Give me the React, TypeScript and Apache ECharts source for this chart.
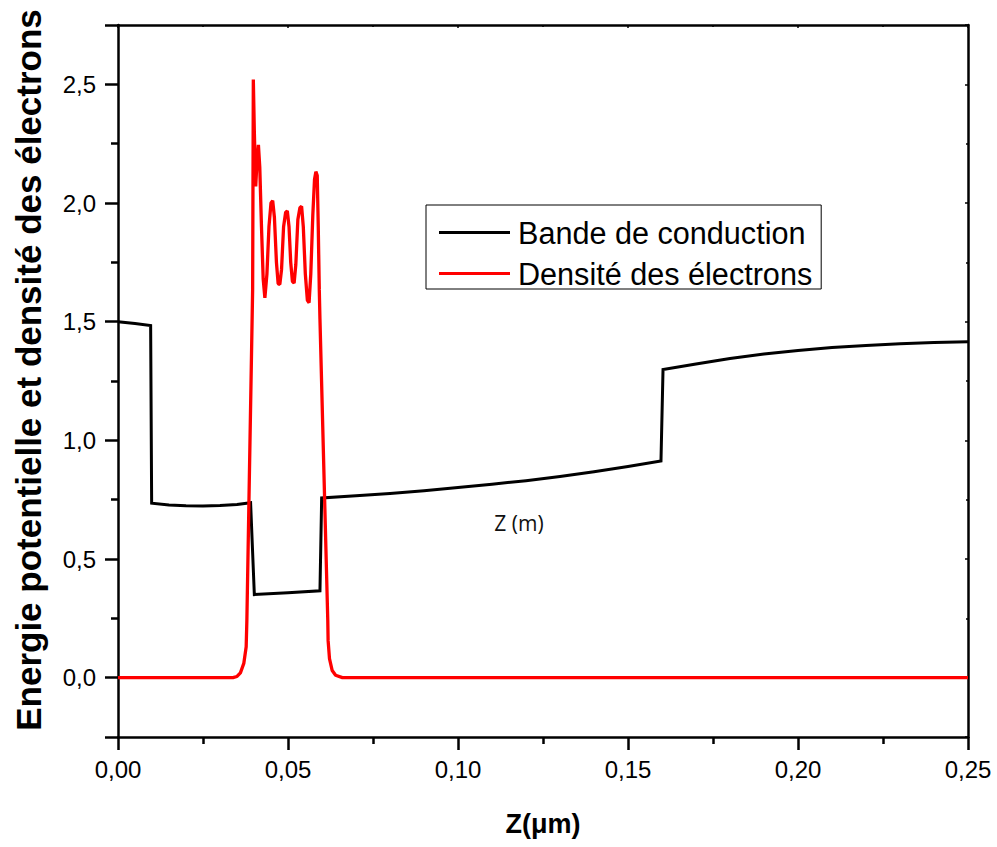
import React, { useEffect, useRef } from "react";
import * as echarts from "echarts";

// Bande de conduction (black)
const bandZ = [0, 0.005, 0.0096, 0.0099, 0.015, 0.02, 0.025, 0.03, 0.035, 0.039, 0.0401, 0.05, 0.0594, 0.0599, 0.07, 0.08, 0.09, 0.10, 0.11, 0.12, 0.13, 0.14, 0.15, 0.1597, 0.1603, 0.17, 0.18, 0.19, 0.20, 0.21, 0.22, 0.23, 0.24, 0.25];
const bandE = [1.50, 1.492, 1.484, 0.735, 0.728, 0.724, 0.723, 0.725, 0.730, 0.737, 0.350, 0.358, 0.366, 0.757, 0.766, 0.776, 0.788, 0.801, 0.815, 0.830, 0.848, 0.868, 0.890, 0.913, 1.298, 1.322, 1.345, 1.364, 1.379, 1.391, 1.400, 1.407, 1.412, 1.415];

// Densité des électrons (red)
const densZ = [0, 0.032, 0.0338, 0.035, 0.036, 0.037, 0.0377, 0.0379, 0.0396, 0.0398, 0.0401, 0.0405, 0.0409, 0.0413, 0.0417, 0.0422, 0.0427, 0.0432, 0.0438, 0.0444, 0.0450, 0.0455, 0.0460, 0.0466, 0.0471, 0.0476, 0.0481, 0.0487, 0.0493, 0.0498, 0.0503, 0.0508, 0.0513, 0.0518, 0.0523, 0.0529, 0.0535, 0.0540, 0.0545, 0.0551, 0.0557, 0.0562, 0.0567, 0.0573, 0.0578, 0.0582, 0.0586, 0.0589, 0.0592, 0.0594, 0.0617, 0.0618, 0.0622, 0.063, 0.064, 0.066, 0.25];
const densN = [0, 0, 0, 0.005, 0.02, 0.06, 0.13, 0.24, 1.636, 2.52, 2.30, 2.07, 2.18, 2.245, 2.15, 1.90, 1.68, 1.60, 1.70, 1.90, 2.00, 2.01, 1.94, 1.75, 1.66, 1.657, 1.72, 1.90, 1.96, 1.967, 1.90, 1.75, 1.67, 1.662, 1.74, 1.93, 1.98, 1.986, 1.90, 1.70, 1.59, 1.58, 1.70, 1.95, 2.10, 2.132, 2.116, 1.90, 1.636, 1.51, 0.241, 0.156, 0.08, 0.03, 0.01, 0, 0];

const seriesNames = ["Bande de conduction", "Densité des électrons"];
const xTitle = "Z(μm)";
const yTitle = "Energie potentielle et densité des électrons";
const noteText = "Z (m)";

const FONT = "'Liberation Sans', Arial, sans-serif";

export default function App() {
  const ref = useRef<HTMLDivElement>(null);
  useEffect(() => {
    document.body.style.margin = "0";
    const chart = echarts.init(ref.current!, null, { renderer: "svg" });
    const isHalf = (v: number) => Math.abs(v * 2 - Math.round(v * 2)) < 1e-6;
    const option: any = {
      animation: false,
      backgroundColor: "#fff",
      grid: { left: 118, right: 29, top: 25, bottom: 110, containLabel: false },
      legend: {
        orient: "vertical",
        left: 426,
        top: 205,
        icon: "rect",
        itemWidth: 71,
        itemHeight: 3,
        itemGap: 10,
        padding: [12, 9, 0, 13],
        borderColor: "#000",
        borderWidth: 1,
        borderRadius: 0,
        textStyle: { fontFamily: FONT, fontSize: 30.6, color: "#000", lineHeight: 30, padding: [0, 0, 0, 3] },
        data: seriesNames,
      },
      xAxis: [
        {
          type: "value",
          min: 0,
          max: 0.25,
          interval: 0.05,
          position: "bottom",
          axisLine: { show: true, onZero: false, lineStyle: { color: "#000", width: 2.5 } },
          axisTick: { show: true, inside: false, length: 13, lineStyle: { color: "#000", width: 2.5 } },
          minorTick: { show: true, splitNumber: 2, length: 7, lineStyle: { color: "#000", width: 2.5 } },
          splitLine: { show: false },
          axisLabel: {
            margin: 20,
            fontFamily: FONT,
            fontSize: 24,
            color: "#000",
            formatter: (v: number) => v.toFixed(2).replace(".", ","),
          },
        },
        {
          type: "value",
          min: 0,
          max: 0.25,
          interval: 0.05,
          position: "top",
          axisLine: { show: true, onZero: false, lineStyle: { color: "#000", width: 2.5 } },
          axisTick: { show: true, inside: true, length: 3, lineStyle: { color: "#000", width: 1.5 } },
          minorTick: { show: true, splitNumber: 2, length: 2, lineStyle: { color: "#000", width: 1.5 } },
          splitLine: { show: false },
          axisLabel: { show: false },
        },
      ],
      yAxis: [
        {
          type: "value",
          min: -0.25,
          max: 2.75,
          position: "left",
          axisLine: { show: true, onZero: false, lineStyle: { color: "#000", width: 2.5 } },
          axisTick: { show: true, inside: false, length: 13, lineStyle: { color: "#000", width: 2.5 } },
          minorTick: { show: true, splitNumber: 2, length: 7, lineStyle: { color: "#000", width: 2.5 } },
          splitLine: { show: false },
          axisLabel: {
            margin: 22,
            fontFamily: FONT,
            fontSize: 24,
            color: "#000",
            formatter: (v: number) => (isHalf(v) && v >= 0 ? v.toFixed(1).replace(".", ",") : ""),
          },
        },
        {
          type: "value",
          min: -0.25,
          max: 2.75,
          position: "right",
          axisLine: { show: true, onZero: false, lineStyle: { color: "#000", width: 2.5 } },
          axisTick: { show: true, inside: true, length: 3, lineStyle: { color: "#000", width: 1.5 } },
          minorTick: { show: true, splitNumber: 2, length: 2, lineStyle: { color: "#000", width: 1.5 } },
          splitLine: { show: false },
          axisLabel: { show: false },
        },
      ],
      series: [
        {
          name: seriesNames[0],
          type: "line",
          xAxisIndex: 0,
          yAxisIndex: 0,
          showSymbol: false,
          symbol: "none",
          color: "#000",
          lineStyle: { color: "#000", width: 3, join: "miter" },
          data: bandZ.map((z, i) => [z, bandE[i]]),
          z: 2,
        },
        {
          name: seriesNames[1],
          type: "line",
          xAxisIndex: 0,
          yAxisIndex: 0,
          showSymbol: false,
          symbol: "none",
          color: "#ff0000",
          lineStyle: { color: "#ff0000", width: 3.3 },
          data: densZ.map((z, i) => [z, densN[i]]),
          z: 3,
        },
      ],
      graphic: [
        {
          type: "text",
          x: 543,
          y: 824,
          style: { text: xTitle, fontFamily: FONT, fontWeight: "bold", fontSize: 27, fill: "#000", align: "center", verticalAlign: "middle" },
        },
        {
          type: "text",
          x: 28,
          y: 370,
          rotation: Math.PI / 2,
          style: { text: yTitle, fontFamily: FONT, fontWeight: "bold", fontSize: 35, fill: "#000", align: "center", verticalAlign: "middle" },
        },
        {
          type: "text",
          x: 519,
          y: 523,
          style: { text: noteText, fontFamily: "'Open Sans', sans-serif", fontSize: 21, fill: "#111", align: "center", verticalAlign: "middle" },
        },
      ],
    };
    chart.setOption(option);
    return () => chart.dispose();
  }, []);
  return <div ref={ref} style={{ width: 997, height: 847 }} />;
}
